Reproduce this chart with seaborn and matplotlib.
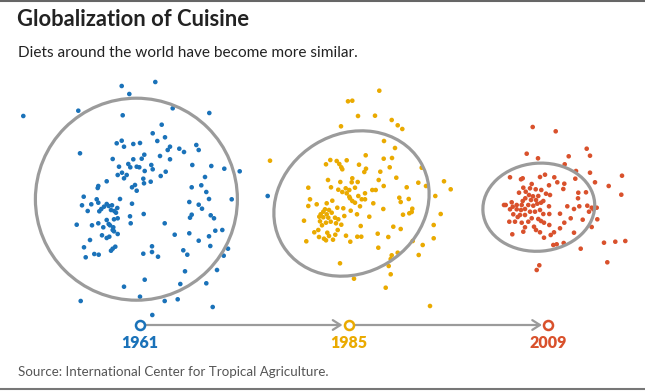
import numpy as np
import pandas as pd
import matplotlib
matplotlib.use("Agg")
import matplotlib.pyplot as plt
from matplotlib.patches import Ellipse
import seaborn as sns

# ---------------- data (positions in the chart's 2-D diet space) ----------------
x_1961 = [121.7, 155.3, 129.3, 23.3, 78.3, 172.7, 209.3, 122.7, 161.7, 152.7, 165, 157.3, 121.7, 116.7,
          124, 133.3, 140, 196.3, 198.7, 179.3, 184, 170, 167.7, 80, 144.3, 141.7, 160, 170, 133.3, 112.7,
          128.3, 119, 130.3, 136.7, 139.3, 151.3, 152.7, 144.7, 192.3, 211.3, 224.3, 239.7, 165.7, 160.7,
          122, 117.7, 126.7, 124, 143.3, 150.7, 144, 106.7, 205, 98.3, 97.7, 135, 132, 136.7, 191.7, 201.3,
          206.3, 83.7, 120, 96.7, 98.3, 209, 231.7, 82, 91.3, 132, 189.3, 198.7, 202, 106.7, 108.7, 104,
          112, 117.3, 101.3, 99.3, 111, 114.3, 116, 87.7, 143.7, 130, 191.7, 190, 210.7, 214, 117.7, 114,
          106.7, 108.7, 98.3, 76.7, 92, 110, 103.3, 113.3, 130.7, 164.7, 215.3, 222.3, 112.7, 102, 106.7,
          109.3, 117.7, 114, 90, 174.7, 189.3, 209, 198.7, 210.3, 228, 223.7, 84, 115.3, 112.7, 111, 152,
          152, 158, 143.3, 183.3, 187.3, 94.3, 98.7, 85.7, 185, 217, 144.7, 206.3, 180.3, 124, 140, 164.7,
          177.7, 80.7, 212.7, 152.3, 267.7]
y_1961 = [86, 82, 94, 116, 110.7, 108.3, 113, 115.3, 124.7, 133.3, 137.3, 141, 140.7, 143.3, 146.7, 144,
          143, 145, 150, 148.7, 152, 146.7, 150, 153.3, 154.7, 158.7, 156, 159.3, 159.3, 159, 164, 166.7,
          167.3, 166.7, 167.3, 165, 169.3, 171, 165, 166, 168.7, 171.3, 171.7, 176, 172.7, 175, 175, 178.3,
          178.7, 181.7, 183.3, 181.3, 177, 186, 188, 185, 187.3, 190.7, 187.3, 185.3, 192, 196.7, 199, 199.3,
          202.7, 199, 199.3, 205.3, 204.3, 203.7, 202, 204.7, 208.7, 204, 206, 206.7, 205.3, 208, 209,
          211.3, 210, 211, 212.7, 211, 214, 216.3, 214.7, 217.7, 215.3, 218.3, 218.3, 219.3, 220, 224,
          223.3, 224.7, 225.3, 225.3, 227.3, 227.3, 223.3, 223.3, 230.7, 230, 230, 235.3, 238, 236.7, 234,
          231.3, 240, 234.7, 233.3, 236.3, 240.7, 246, 248.7, 255.7, 247.3, 246.7, 248.7, 250.7, 246.3,
          252, 256.7, 253.7, 250.3, 254.7, 254, 254.7, 257.3, 271.3, 270, 279.7, 283.3, 284, 286.7, 296.7,
          301, 299.3, 301, 307, 315, 196]

x_1985 = [379.3, 348, 352.3, 358, 375, 391.7, 397.7, 402.3, 341, 384, 395, 270, 330.3, 336.7, 346.7, 326,
          339.3, 341.3, 342.3, 359, 365.7, 383.7, 392, 389.7, 366, 364.3, 380.3, 421.7, 328, 340.3, 352.3,
          357.7, 351.7, 378.7, 396.3, 444, 418.3, 426, 450.7, 308.3, 331, 338.3, 345.7, 349.3, 342.3, 346.7,
          355, 372.3, 375.7, 383.7, 406.7, 310, 308.3, 316.7, 326.7, 332.3, 350, 352.3, 349.3, 358.3, 361.7,
          365, 365, 355, 360, 373.3, 399.3, 400.7, 408.7, 435.3, 337.3, 343.3, 383.3, 325, 329, 323.3, 331.7,
          320.7, 326.7, 319.3, 323.3, 328.3, 335, 338.3, 344.3, 350.7, 357, 369.3, 403, 412.3, 411.7, 409.3,
          440.7, 304, 320, 326, 330.7, 336, 322, 341.3, 318.3, 360.7, 337.7, 327.3, 335.3, 329, 314.3, 319,
          324, 326, 333, 346, 357.3, 361.3, 350.3, 377.7, 388.3, 393.3, 400.7, 433.7, 433.7, 412.7, 306.3,
          378.3, 422.7, 397.7, 391.7, 418.7, 390.7, 388.7, 340, 390.7, 354, 385.7, 430]
y_1985 = [90.7, 101.3, 100.7, 116, 115.7, 120, 125.3, 129, 126.3, 141, 148, 160.7, 160, 161, 160.3, 164.3,
          164, 167.3, 169.3, 164.7, 155.3, 158.7, 158, 167.3, 168.7, 172, 171.7, 167.7, 180, 182, 178.3, 182,
          182.3, 180, 177.7, 181.3, 182.7, 186, 189.3, 187.7, 187.3, 189.7, 188.3, 190, 192, 193.3, 187.7,
          190, 190, 186, 187.3, 199.3, 206, 204.3, 203.3, 200.7, 198.3, 201, 196.7, 196, 199.3, 193.3, 199.3,
          202.7, 206.3, 203.3, 197.7, 202, 199, 196, 207.7, 208.3, 209, 209.3, 210, 211.7, 212.7, 214.3,
          214.3, 216.7, 217.3, 217.7, 217.7, 219.3, 216, 210.7, 214.3, 216.7, 214.7, 208.7, 212, 213.3, 214,
          220.7, 221.3, 222.7, 221.7, 223.3, 225.3, 224.7, 230, 226, 230, 232.7, 234.7, 236, 232.3, 237,
          238.7, 240.3, 239.7, 235.7, 236.7, 236.7, 241.7, 233.7, 237, 226.7, 229, 225, 238.3, 241, 241.3,
          247.7, 245, 252.7, 255.3, 255, 259, 266, 263.3, 274.3, 278.7, 287.7, 306]

x_2009 = [532.7, 555.7, 586.7, 590, 526.7, 538, 568.7, 564.7, 576, 590, 622, 510, 521, 522.7, 540, 545,
          554.3, 557.3, 549, 564.3, 575.3, 595, 608.7, 621.3, 531.7, 523.3, 530, 525.7, 519, 535.7, 541.3,
          546, 550, 563.3, 578.3, 586, 578, 529, 533, 538.3, 525.3, 522.7, 531, 536, 541, 543.3, 511.7,
          516.7, 505.7, 504, 512.7, 521.7, 528.3, 533.3, 537.3, 549, 567.3, 574, 579.3, 587.3, 591.7, 596.7,
          593.3, 589, 510, 516.7, 521, 525, 530, 535, 540, 543.3, 549.3, 560, 513.3, 520, 525, 517.7, 531.7,
          538.3, 570.7, 582.7, 597.3, 509.3, 515, 521.7, 528.3, 541, 544, 564.3, 525, 534, 549.3, 560,
          591.7, 523.3, 512.3, 536, 540, 554, 550.7, 544, 574, 563.7, 556.7, 553.3, 604, 615.3, 625.3,
          580.7, 607.3, 539.3, 536.7]
y_2009 = [127, 131.3, 148.7, 155.7, 153.7, 158.3, 156.3, 164.3, 171, 172.7, 175.7, 177.3, 179.3, 178.3,
          177, 174.7, 177.3, 182.3, 185.3, 183.7, 178.7, 182.3, 186, 194.7, 184, 187.7, 188.3, 191.7, 192.7,
          189.3, 190, 193.7, 195, 189, 192.7, 192.3, 198.3, 195, 196.3, 196, 198.3, 201, 200, 200, 202.7,
          201, 202.3, 205, 205, 205, 206.7, 205, 205, 205.7, 203.7, 206.3, 206.3, 209, 206.3, 205.7, 207.7,
          207.7, 209.3, 211.7, 209.3, 209.3, 210, 209, 211.7, 211.7, 210, 214, 214, 213.7, 214.3, 215, 215,
          217, 218.3, 219, 218.3, 219.7, 219.3, 221.7, 221.7, 222.7, 221.7, 221, 222.7, 222.7, 227.3, 226.7,
          225, 228.3, 227, 231.7, 234.3, 230, 232.3, 232.3, 235, 237.7, 232.7, 243, 244.3, 245, 242.7, 241.7,
          241, 248.7, 262.3, 265.3, 270]

years = ["1961", "1985", "2009"]
colors = ["#1a72b9", "#eaaa00", "#d9512c"]

# spread ellipses (centre x, centre y, width, height, angle)
ell_cx = [136.4, 351.5, 538.8]
ell_cy = [199.2, 203.5, 207.2]
ell_w = [202, 161, 112]
ell_h = [202, 139, 88]
ell_angle = [0, -31.6, -5]

# timeline positions
timeline_x = [140, 348.5, 548]
timeline_y = 325

# ---------------- build table ----------------
df = pd.concat([
    pd.DataFrame({"x": x_1961, "y": y_1961, "year": "1961"}),
    pd.DataFrame({"x": x_1985, "y": y_1985, "year": "1985"}),
    pd.DataFrame({"x": x_2009, "y": y_2009, "year": "2009"}),
], ignore_index=True)

sns.set_style("white")
plt.rcParams["font.family"] = ["Lato", "DejaVu Sans"]

W, H = 645, 391
fig = plt.figure(figsize=(W / 100, H / 100), dpi=100)
ax = fig.add_axes([0, 0, 1, 1])
ax.set_xlim(0, W)
ax.set_ylim(H, 0)
ax.axis("off")

palette = dict(zip(years, colors))
sns.scatterplot(data=df, x="x", y="y", hue="year", palette=palette, s=11,
                linewidth=0, legend=False, ax=ax, zorder=3)

for cx, cy, w, h, a in zip(ell_cx, ell_cy, ell_w, ell_h, ell_angle):
    ax.add_patch(Ellipse((cx, cy), w, h, angle=a, fill=False, edgecolor="#9b9b9b",
                         linewidth=2.3, zorder=4))

# timeline arrows
for i in range(len(timeline_x) - 1):
    ax.annotate("", xy=(timeline_x[i + 1] - 6, timeline_y), xytext=(timeline_x[i] + 4, timeline_y),
                arrowprops=dict(arrowstyle="->,head_length=0.55,head_width=0.35", color="#9b9b9b",
                                lw=1.6, shrinkA=0, shrinkB=0), zorder=2)
for tx, yr, c in zip(timeline_x, years, colors):
    ax.plot([tx], [timeline_y], marker="o", markersize=6.5, markerfacecolor="white",
            markeredgecolor=c, markeredgewidth=1.8, zorder=5)
    ax.text(tx, 343, yr, color=c, fontsize=11.5, fontweight="heavy", ha="center", va="center")

# titles and source
ax.text(17, 20, "Globalization of Cuisine", fontsize=15.8, fontweight="bold", color="#222222",
        ha="left", va="center")
ax.text(18, 53, "Diets around the world have become more similar.", fontsize=11.1, color="#222222",
        ha="left", va="center")
ax.text(18, 372, "Source: International Center for Tropical Agriculture.", fontsize=9.6,
        color="#555555", ha="left", va="center")

# frame lines
ax.plot([0, W], [1, 1], color="#666666", lw=1.5, solid_capstyle="butt")
ax.plot([0, W], [388.5, 388.5], color="#777777", lw=1.5, solid_capstyle="butt")

fig.savefig("out.png", dpi=100)
